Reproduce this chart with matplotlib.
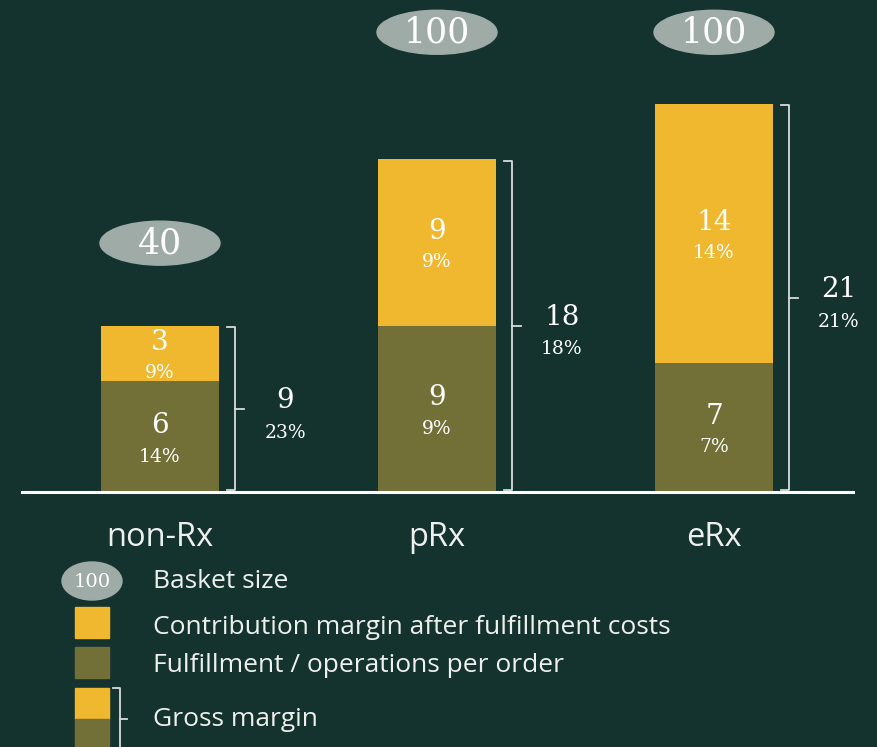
import matplotlib
matplotlib.use("Agg")
import matplotlib.pyplot as plt
from matplotlib.patches import Ellipse, Rectangle

# ---- data ----
categories = ["non-Rx", "pRx", "eRx"]
basket_size = [40, 100, 100]
fulfillment = [6, 9, 7]
contribution = [3, 9, 14]
fulfillment_pct = ["14%", "9%", "7%"]
contribution_pct = ["9%", "9%", "14%"]
gross_margin = [9, 18, 21]
gross_margin_pct = ["23%", "18%", "21%"]
legend_labels = ["Basket size", "Contribution margin after fulfillment costs",
                 "Fulfillment / operations per order", "Gross margin"]

# ---- layout / style ----
basket_y = [13.45, 24.85, 24.85]   # vertical placement of basket ellipses (data units)
BG = "#14332e"
YEL = "#f0b82f"
OLV = "#727037"
GRY = "#9eaba7"
WHT = "#ffffff"
TXT = "#eef0ee"
SERIF = "DejaVu Serif"
SANS = "Open Sans"

W, H = 877, 747
XU, YU = 277.0, 18.5          # pixels per category / per unit
base_px, x0_px = 492, 160

fig = plt.figure(figsize=(W / 100, H / 100), dpi=100, facecolor=BG)
ax = fig.add_axes([0, 0, 1, 1])
ax.set_facecolor(BG)
ax.axis("off")
ax.set_xlim(-x0_px / XU, (W - x0_px) / XU)
ax.set_ylim(-(H - base_px) / YU, base_px / YU)

x = list(range(len(categories)))
bw = 118 / XU
ax.bar(x, fulfillment, width=bw, color=OLV, zorder=2)
ax.bar(x, contribution, bottom=fulfillment, width=bw, color=YEL, zorder=2)
ax.axhline(0, xmin=22 / W, xmax=853 / W, color=WHT, lw=2.2, zorder=3)

for i in x:
    f, c, g = fulfillment[i], contribution[i], gross_margin[i]
    # segment labels
    for mid, val, pct in [(f / 2, f, fulfillment_pct[i]), (f + c / 2, c, contribution_pct[i])]:
        ax.annotate(str(val), (i, mid), xytext=(0, 11), textcoords="offset pixels",
                    ha="center", va="center", fontsize=20, family=SERIF, color=WHT, zorder=4)
        ax.annotate(pct, (i, mid), xytext=(0, -20), textcoords="offset pixels",
                    ha="center", va="center", fontsize=13.5, family=SERIF, color=WHT, zorder=4)
    # bracket
    xr = i + bw / 2
    xs = xr + 8 / XU
    xv = xr + 16 / XU
    total = f + c
    ax.plot([xs, xv, xv, xs], [total - 0.1, total - 0.1, 0.1, 0.1], color="#d8dcd9", lw=1.3,
            solid_joinstyle="round", zorder=3)
    ax.plot([xv, xv + 9 / XU], [total / 2, total / 2], color="#d8dcd9", lw=1.3, zorder=3)
    ax.annotate(str(g), (xv + 50 / XU, total / 2), xytext=(0, 8), textcoords="offset pixels",
                ha="center", va="center", fontsize=20, family=SERIF, color=WHT)
    ax.annotate(gross_margin_pct[i], (xv + 50 / XU, total / 2), xytext=(0, -24),
                textcoords="offset pixels", ha="center", va="center", fontsize=13.5,
                family=SERIF, color=WHT)
    # basket ellipse
    ax.add_patch(Ellipse((i, basket_y[i]), width=120 / XU, height=44 / YU, color=GRY, zorder=2))
    ax.text(i, basket_y[i], str(basket_size[i]), ha="center", va="center", fontsize=25,
            family=SERIF, color=WHT, zorder=3)
    # category label
    ax.text(i, -(538 - base_px) / YU, categories[i], ha="center", va="center", fontsize=23.5,
            family=SANS, color=TXT)

# ---- legend (pixel coordinates overlay) ----
lg = fig.add_axes([0, 0, 1, 1])
lg.axis("off")
lg.patch.set_alpha(0)
lg.set_xlim(0, W)
lg.set_ylim(H, 0)
lg.add_patch(Ellipse((92, 581), 60, 38, color=GRY))
lg.text(92, 582, str(basket_size[-1]), ha="center", va="center", fontsize=14, family=SERIF, color=WHT)
lg.add_patch(Rectangle((75, 607), 34, 31, color=YEL))
lg.add_patch(Rectangle((75, 647), 34, 31, color=OLV))
lg.add_patch(Rectangle((75, 688), 34, 31, color=YEL))
lg.add_patch(Rectangle((75, 719), 34, 31, color=OLV))
lg.plot([113, 120, 120], [688, 688, 750], color="#d8dcd9", lw=1.3)
lg.plot([120, 127], [719, 719], color="#d8dcd9", lw=1.3)
for ty, lab in zip([581, 627, 665, 720], legend_labels):
    lg.text(153, ty, lab, ha="left", va="center", fontsize=19, family=SANS, color=TXT)

fig.savefig("out.png", dpi=100, facecolor=BG)
